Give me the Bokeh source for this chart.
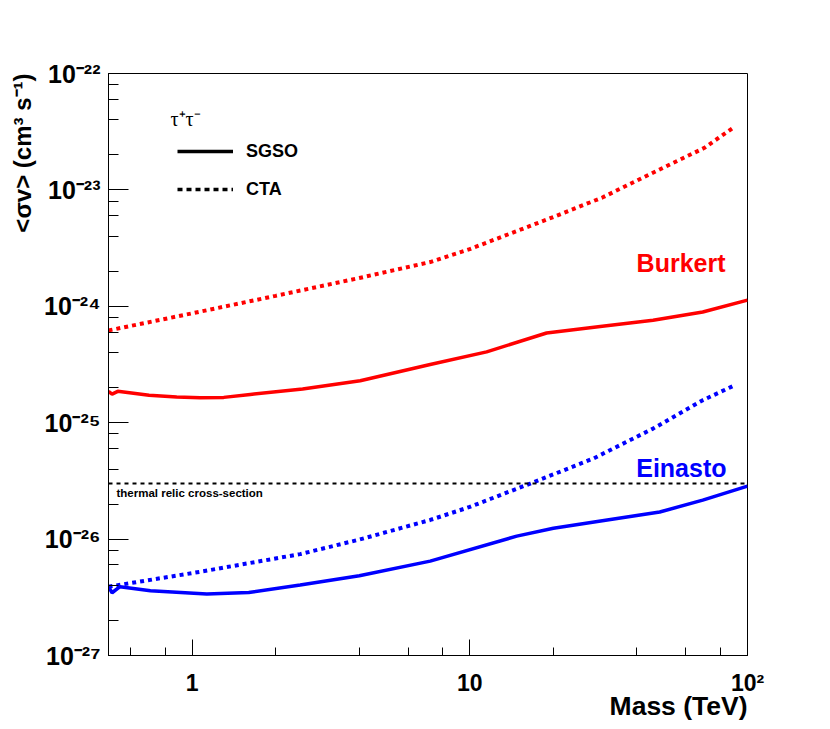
import math
from bokeh.plotting import figure
from bokeh.models import (Label, Legend, LegendItem, CustomJSTickFormatter, LogTicker, Span, Title)
from bokeh.embed import file_html
from bokeh.resources import INLINE

# ---------------- data ----------------
mass_burkert_sgso = [0.5, 0.515, 0.54, 0.7, 0.88, 1.07, 1.3, 1.62, 2.5, 4.03, 7.2, 11.5, 18.9, 30, 45.7, 69, 100]
sv_burkert_sgso = [1.86e-25, 1.76e-25, 1.86e-25, 1.72e-25, 1.66e-25, 1.64e-25, 1.65e-25, 1.75e-25, 1.95e-25,
                   2.29e-25, 3.16e-25, 4.06e-25, 5.9e-25, 6.73e-25, 7.58e-25, 8.93e-25, 1.13e-24]

mass_burkert_cta = [0.5, 1, 2, 4, 7.2, 10, 20, 30, 45, 70, 90]
sv_burkert_cta = [6.2e-25, 8.7e-25, 1.23e-24, 1.75e-24, 2.4e-24, 3.1e-24, 5.85e-24, 8.6e-24, 1.38e-23, 2.3e-23, 3.5e-23]

mass_einasto_sgso = [0.5, 0.515, 0.55, 0.708, 1.13, 1.6, 2.45, 4, 7.2, 14.76, 20, 30, 48.3, 69, 100]
sv_einasto_sgso = [3.9e-27, 3.46e-27, 3.9e-27, 3.6e-27, 3.37e-27, 3.48e-27, 4.03e-27, 4.85e-27, 6.47e-27,
                   1.06e-26, 1.24e-26, 1.44e-26, 1.71e-26, 2.16e-26, 2.85e-26]

mass_einasto_cta = [0.5, 1.07, 2.45, 4, 7.2, 10, 16.5, 27.9, 45.7, 69, 90]
sv_einasto_cta = [3.9e-27, 5.24e-27, 7.43e-27, 9.9e-27, 1.46e-26, 1.89e-26, 3.0e-26, 4.93e-26, 8.9e-26, 1.56e-25, 2.1e-25]

thermal_relic = 3e-26
x_limits = (0.5, 100)
y_limits = (1e-27, 1e-22)

x_title = "Mass (TeV)"
y_title = "<σv> (cm³ s⁻¹)"
channel = "τ⁺τ⁻"
legend_labels = ["SGSO", "CTA"]
thermal_text = "thermal relic cross-section"
profile_labels = ["Burkert", "Einasto"]

RED = "#ff0000"
BLUE = "#0000ff"
FONT = "Liberation Sans"

# ---------------- figure ----------------
p = figure(x_axis_type="log", y_axis_type="log", x_range=x_limits, y_range=y_limits,
           frame_width=639, frame_height=582,
           min_border_left=108, min_border_top=73, min_border_right=60, min_border_bottom=70,
           output_backend="svg", toolbar_location=None,
           background_fill_color="white", border_fill_color="white")
p.grid.visible = False
p.outline_line_color = "black"
p.outline_line_width = 1

fmt_code = """
const sup = {"-": "\\u207b", "0": "\\u2070", "1": "\\u00b9", "2": "\\u00b2", "3": "\\u00b3",
             "4": "\\u2074", "5": "\\u2075", "6": "\\u2076", "7": "\\u2077", "8": "\\u2078", "9": "\\u2079"};
const e = Math.round(Math.log10(tick));
if (e == 0) return "1";
if (e == 1) return "10";
return "10" + String(e).split("").map(c => sup[c]).join("");
"""

for ax, tin, mtin, fs, so in ((p.xaxis[0], 16, 8, "23px", 14), (p.yaxis[0], 20, 10, "25px", 8)):
    ax.formatter = CustomJSTickFormatter(code=fmt_code)
    ax.major_tick_in = tin
    ax.major_tick_out = 0
    ax.minor_tick_in = mtin
    ax.minor_tick_out = 0
    ax.major_label_text_font = FONT
    ax.major_label_text_font_style = "bold"
    ax.major_label_text_font_size = fs
    ax.major_label_text_color = "black"
    ax.major_label_standoff = so
    ax.axis_line_color = "black"
    ax.major_tick_line_color = "black"
    ax.minor_tick_line_color = "black"
p.yaxis[0].ticker = LogTicker(desired_num_ticks=6)
p.xaxis[0].ticker = LogTicker(desired_num_ticks=3)

# axis titles, aligned at the end of the axes as in ROOT
p.add_layout(Title(text=x_title, align="right", vertical_align="top", text_font=FONT,
                   text_font_style="bold", text_font_size="26.5px", text_color="black",
                   standoff=-16, offset=0), "below")
p.add_layout(Title(text=y_title, align="right", text_font=FONT, text_font_style="bold",
                   text_font_size="24px", text_color="black", standoff=12, offset=0), "left")

# ---------------- curves ----------------
p.line(mass_burkert_cta, sv_burkert_cta, line_color=RED, line_width=4, line_dash="4 4")
p.line(mass_burkert_sgso, sv_burkert_sgso, line_color=RED, line_width=3.5)
p.line(mass_einasto_cta, sv_einasto_cta, line_color=BLUE, line_width=4, line_dash="4 4")
p.line(mass_einasto_sgso, sv_einasto_sgso, line_color=BLUE, line_width=3.5)

# thermal relic line
p.add_layout(Span(location=thermal_relic, dimension="width", line_color="black",
                  line_width=2, line_dash="4 4"))

# ---------------- legend ----------------
nan = float("nan")
r_solid = p.line([nan], [nan], line_color="black", line_width=3.5)
r_dash = p.line([nan], [nan], line_color="black", line_width=3.5, line_dash="5 4")
legend = Legend(items=[LegendItem(label=legend_labels[0], renderers=[r_solid]),
                       LegendItem(label=legend_labels[1], renderers=[r_dash])],
                location=(69, 451), glyph_width=56, glyph_height=30, label_height=30,
                spacing=8, padding=0, margin=0, label_standoff=13,
                border_line_color=None, background_fill_alpha=0,
                label_text_font=FONT, label_text_font_style="bold", label_text_font_size="18px",
                label_text_color="black")
p.add_layout(legend)

# ---------------- texts ----------------
def add_label(text, x, y, size, color="black", align="left", font=FONT, style="bold"):
    p.add_layout(Label(text=text, x=x, y=y, x_units="screen", y_units="screen",
                       text_align=align, text_baseline="middle",
                       text_font=font, text_font_style=style, text_font_size=size,
                       text_color=color))

add_label(channel, 62, 537, "20px", font="Liberation Serif", style="normal")
add_label(profile_labels[0], 617, 393, "25px", color=RED, align="right")
add_label(profile_labels[1], 618, 188, "25px", color=BLUE, align="right")
add_label(thermal_text, 8, 163, "11.5px")

open("out.html", "w").write(file_html(p, INLINE))
